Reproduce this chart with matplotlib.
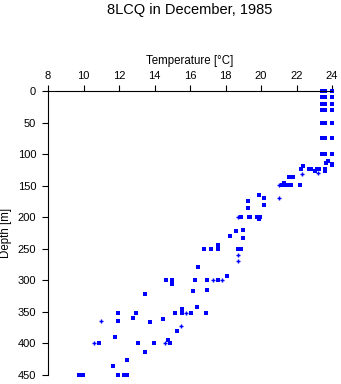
import matplotlib
matplotlib.use("Agg")
import matplotlib.pyplot as plt

# Square-marker observations: temperature [°C], depth [m]
sq_temp = [23.45, 23.62, 24.0, 23.45, 23.62, 24.0, 23.45, 23.62, 24.0,
           23.45, 23.62, 24.0, 23.45, 23.62, 24.0, 23.45, 23.62, 24.0,
           23.45, 23.62, 24.0,
           23.64, 23.8, 24.0, 24.0,
           22.38, 22.24, 22.69, 22.8, 23.02, 23.13, 23.28, 23.6, 23.6,
           21.6, 21.8,
           21.31, 21.2, 21.35, 21.45, 21.7, 22.2,
           19.9, 20.19,
           19.28, 20.19, 19.28,
           18.87, 19.3, 19.38, 19.8, 19.97, 19.87,
           19.0, 18.6, 18.27, 19.0,
           17.6, 16.79, 17.2, 17.6, 18.69, 18.9,
           16.47, 18.1,
           14.66, 15.0, 16.3, 16.97, 17.6, 15.0,
           16.19, 16.97, 13.48,
           16.41, 15.57,
           11.96, 12.97, 15.17, 15.57, 16.07, 16.9, 15.57,
           12.8, 14.5, 11.96, 13.76,
           15.28, 11.79, 14.78,
           10.9, 13.09, 13.99, 14.89,
           13.48, 12.47, 11.68,
           9.77, 9.99, 11.96, 12.3, 12.47]
sq_depth = [0, 0, 0, 10, 10, 10, 20, 20, 20,
            30, 30, 30, 50, 50, 50, 75, 75, 75,
            100, 100, 100,
            114, 111, 115, 118,
            119, 124, 124, 124, 127, 124, 124, 123, 127,
            137, 137,
            145, 149, 149, 149, 149, 149,
            164, 170,
            175, 180, 186,
            200, 200, 200, 200, 200, 203,
            220, 222, 230, 233,
            244, 250, 250, 250, 250, 250,
            279, 293,
            300, 300, 300, 300, 300, 306,
            317, 315, 322,
            342, 345,
            351, 351, 351, 351, 351, 351, 346,
            359, 362, 365, 366,
            380, 389, 394,
            400, 400, 400, 400,
            414, 426, 436,
            450, 450, 450, 450, 450]

# Plus-marker observations
pl_temp = [23.2, 22.3, 21.0, 21.0, 18.69, 18.69, 18.69, 17.27, 17.8,
           15.79, 10.97, 15.48, 10.57, 14.57]
pl_depth = [130, 132, 149, 170, 200, 260, 270, 300, 300,
            351, 365, 373, 400, 400]

x_ticks = [8, 10, 12, 14, 16, 18, 20, 22, 24]
y_ticks = [0, 50, 100, 150, 200, 250, 300, 350, 400, 450]

title = "8LCQ in December, 1985"
xlabel = "Temperature [°C]"
ylabel = "Depth [m]"

plt.rcParams['font.family'] = ['Liberation Sans', 'DejaVu Sans']

W, H = 341, 384
fig = plt.figure(figsize=(W / 100, H / 100), dpi=100)
ax = fig.add_axes([48 / W, 1 - 375 / H, (332 - 48) / W, (375 - 91) / H])

blue = '#0000ff'
ax.plot(sq_temp, sq_depth, linestyle='none', marker='s', markersize=2.2,
        markeredgewidth=0, color=blue, clip_on=False)
ax.plot(pl_temp, pl_depth, linestyle='none', marker='+', markersize=3.5,
        markeredgewidth=1.0, color=blue, clip_on=False)

ax.set_xlim(8, 24)
ax.set_ylim(450, 0)
ax.xaxis.tick_top()
ax.set_xticks(x_ticks)
ax.set_yticks(y_ticks)
ax.tick_params(axis='both', direction='out', length=4.5, width=0.8,
               labelsize=8, colors='black')
ax.tick_params(axis='x', pad=3)
ax.tick_params(axis='y', pad=4)
for s in ['right', 'bottom']:
    ax.spines[s].set_visible(False)
for s in ['top', 'left']:
    ax.spines[s].set_linewidth(0.8)

fig.text(190 / W, 1 - 10 / H, title, ha='center', va='center', fontsize=10.5)
fig.text(190 / W, 1 - 61 / H, xlabel, ha='center', va='center', fontsize=8.3)
fig.text(6 / W, 1 - 233 / H, ylabel, ha='center', va='center', fontsize=8.3,
         rotation=90)

fig.savefig("out.png", dpi=100)
